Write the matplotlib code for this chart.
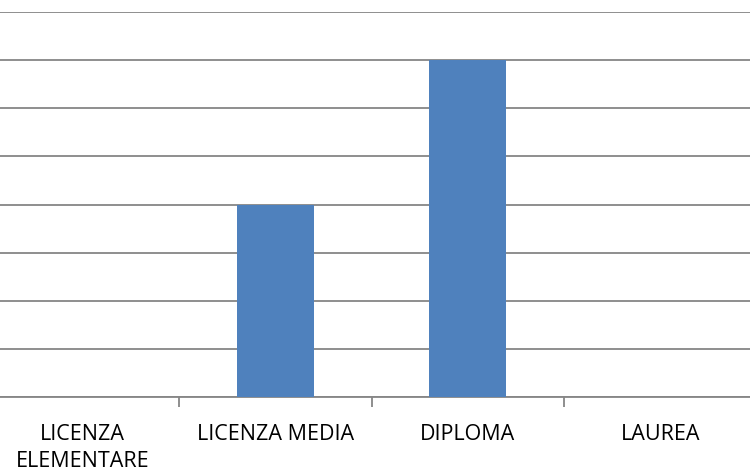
import matplotlib
matplotlib.use("Agg")
import matplotlib.pyplot as plt

categories = ["LICENZA\nELEMENTARE", "LICENZA MEDIA", "DIPLOMA", "LAUREA"]
values = [0, 4, 7, 0]
ymax = 8

fig = plt.figure(figsize=(7.5, 4.74), dpi=100)
left = -13.5 / 750
right = 756.5 / 750
bottom = (474 - 397) / 474
top = (474 - 12) / 474
ax = fig.add_axes([left, bottom, right - left, top - bottom])

x = list(range(len(categories)))
ax.bar(x, values, width=0.4, color="#4F81BD", zorder=3)
ax.set_xlim(-0.5, len(categories) - 0.5)
ax.set_ylim(0, ymax)
ax.set_yticks(range(0, ymax + 1))
ax.yaxis.grid(True, color="#868686", linewidth=1.3, zorder=0)
ax.tick_params(axis="y", left=False, labelleft=False)
for s in ["top", "right", "left"]:
    ax.spines[s].set_visible(False)
ax.spines["bottom"].set_color("#868686")
ax.spines["bottom"].set_linewidth(1.3)

ax.set_xticks([i + 0.5 for i in range(len(categories) - 1)], minor=False)
ax.set_xticklabels([])
ax.tick_params(axis="x", which="major", direction="out", length=7, color="#868686", width=1.3)
ax.set_xticks(x, minor=True)
ax.set_xticklabels(categories, minor=True, fontsize=15.5, fontfamily="Open Sans",
                   linespacing=1.38, va="top", color="#000000")
ax.tick_params(axis="x", which="minor", length=0, pad=19.5)

fig.savefig("out.png", dpi=100)
